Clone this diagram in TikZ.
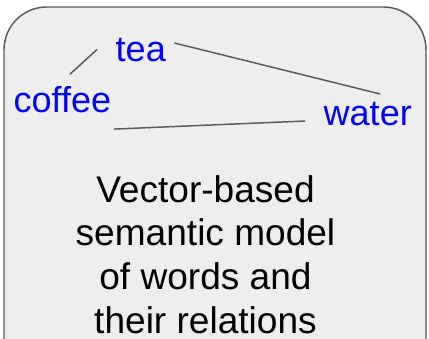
\documentclass[tikz,border=0pt]{standalone}
\usepackage{fontspec}
\setmainfont{Liberation Sans}
\definecolor{boxgray}{HTML}{EEEEEE}
\definecolor{edgegray}{HTML}{5A5A5A}
\begin{document}
\begin{tikzpicture}[x=0.75pt,y=-0.75pt,line width=1.1pt,
	word/.style={inner sep=0pt,anchor=base west,text=blue,font=\fontsize{27}{33}\selectfont},
	link/.style={draw=edgegray,line width=1.1pt}]
		\useasboundingbox (0,0) rectangle (429,339);
		\clip (0,0) rectangle (429,339);
		\draw[draw=edgegray,fill=boxgray,rounded corners=32pt] (4,380)--(4,7)--(426,7)--(426,380);
		\node[word] (tea) at (115,61) {tea};
		\node[word] (coffee) at (13,112) {coffee};
		\node[word] (water) at (323,125) {water};
		\draw[link] ([shift={(7.5,-11)}]coffee.north)--([shift={(-18,0)}]tea.west);
		\draw[link] ([shift={(8,-6.5)}]tea.east)--([shift={(12.5,-7)}]water.north);
		\draw[link] ([shift={(2,16)}]coffee.south east)--([shift={(-18,7.5)}]water.west);
		\node[inner sep=0pt,align=center,font=\fontsize{27.8}{32.8}\selectfont] (model) at (205.5,254.5) {Vector-based\\semantic model\\of words and\\their relations};
	\end{tikzpicture}
\end{document}
